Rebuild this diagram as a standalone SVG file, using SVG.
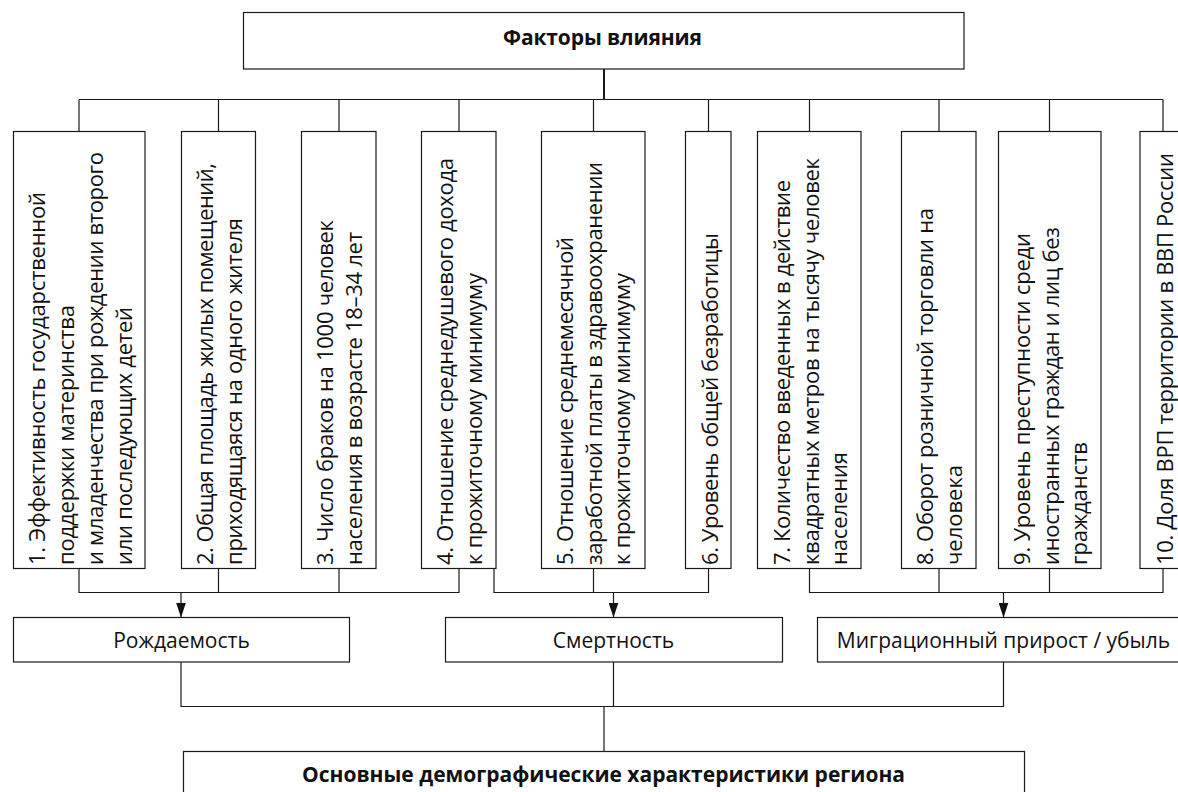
<svg xmlns="http://www.w3.org/2000/svg" width="1178" height="792" viewBox="0 0 1178 792">
<style>
rect{fill:#fff;stroke:#1a1a1a;stroke-width:1.2}
.c{fill:none;stroke:#1a1a1a;stroke-width:1.2}
.t{font-family:"Open Sans","Noto Sans","DejaVu Sans",sans-serif;font-size:21px;fill:#111}
.v{font-family:"Open Sans","Noto Sans","DejaVu Sans",sans-serif;font-size:22px;fill:#111}
.b{font-family:"Open Sans","Noto Sans","DejaVu Sans",sans-serif;font-size:21px;font-weight:bold;fill:#111}
</style>
<defs>
<marker id="arr" viewBox="0 0 15 10" refX="15" refY="5" markerWidth="15" markerHeight="10" markerUnits="userSpaceOnUse" orient="auto">
<path d="M0,0 L15,5 L0,10 z" fill="#111"/>
</marker>
</defs>
<rect width="1178" height="792" style="fill:#fff;stroke:none"/>
<g id="connectors">
<path class="c" d="M604 69 V99.5" style="stroke-width:2"/>
<path class="c" d="M79 99.5 H1163"/>
<path class="c" d="M79 99.5 V131.5 M218.5 99.5 V131.5 M339 99.5 V131.5 M459 99.5 V131.5 M593.5 99.5 V131.5 M708.5 99.5 V131.5 M809.5 99.5 V131.5 M939 99.5 V131.5 M1049.5 99.5 V131.5 M1163 99.5 V131.5"/>
<path class="c" d="M79 568.5 V592.5 H459 V568.5 M218.5 568.5 V592.5 M339 568.5 V592.5"/>
<path class="c" d="M494 568.5 V592.5 H708.5 V568.5 M593.5 568.5 V592.5"/>
<path class="c" d="M809.5 568.5 V592.5 H1163 V568.5 M939 568.5 V592.5 M1049.5 568.5 V592.5"/>
<path class="c" d="M181 592.5 V617.5" marker-end="url(#arr)"/>
<path class="c" d="M613.5 592.5 V617.5" marker-end="url(#arr)"/>
<path class="c" d="M1003.5 592.5 V617.5" marker-end="url(#arr)"/>
<path class="c" d="M181 662 V706.5 H1003.5 V662 M613.5 662 V706.5"/>
<path class="c" d="M604 706.5 V751.5"/>
</g>
<g id="factors">
<rect x="243.5" y="12.5" width="720.5" height="56.5"/>
<text class="b" x="503" y="45" textLength="199">Факторы влияния</text>
</g>
<g id="f1">
<rect x="13.5" y="131.5" width="131.5" height="437"/>
<text class="v" transform="rotate(-90)" x="-565" y="45" textLength="373">1. Эффективность государственной</text>
<text class="v" transform="rotate(-90)" x="-565" y="74" textLength="260">поддержки материнства</text>
<text class="v" transform="rotate(-90)" x="-565" y="103" textLength="413">и младенчества при рождении второго</text>
<text class="v" transform="rotate(-90)" x="-565" y="132" textLength="258">или последующих детей</text>
</g>
<g id="f2">
<rect x="181.5" y="131.5" width="74" height="437"/>
<text class="v" transform="rotate(-90)" x="-565" y="213" textLength="402">2. Общая площадь жилых помещений,</text>
<text class="v" transform="rotate(-90)" x="-565" y="242" textLength="347">приходящаяся на одного жителя</text>
</g>
<g id="f3">
<rect x="301.5" y="131.5" width="74.5" height="437"/>
<text class="v" transform="rotate(-90)" x="-565" y="333" textLength="345">3. Число браков на 1000 человек</text>
<text class="v" transform="rotate(-90)" x="-565" y="362" textLength="333">населения в возрасте 18–34 лет</text>
</g>
<g id="f4">
<rect x="421.5" y="131.5" width="74.5" height="437"/>
<text class="v" transform="rotate(-90)" x="-565" y="453" textLength="407">4. Отношение среднедушевого дохода</text>
<text class="v" transform="rotate(-90)" x="-565" y="481.5" textLength="292">к прожиточному минимуму</text>
</g>
<g id="f5">
<rect x="541.5" y="131.5" width="103.5" height="437"/>
<text class="v" transform="rotate(-90)" x="-565" y="573" textLength="328">5. Отношение среднемесячной</text>
<text class="v" transform="rotate(-90)" x="-565" y="601.5" textLength="403">заработной платы в здравоохранении</text>
<text class="v" transform="rotate(-90)" x="-565" y="630" textLength="292">к прожиточному минимуму</text>
</g>
<g id="f6">
<rect x="685.5" y="131.5" width="45.5" height="437"/>
<text class="v" transform="rotate(-90)" x="-565" y="718" textLength="332">6. Уровень общей безработицы</text>
</g>
<g id="f7">
<rect x="757.5" y="131.5" width="103.5" height="437"/>
<text class="v" transform="rotate(-90)" x="-565" y="790" textLength="385">7. Количество введенных в действие</text>
<text class="v" transform="rotate(-90)" x="-565" y="818.5" textLength="407">квадратных метров на тысячу человек</text>
<text class="v" transform="rotate(-90)" x="-565" y="847" textLength="113">населения</text>
</g>
<g id="f8">
<rect x="901.5" y="131.5" width="74.5" height="437"/>
<text class="v" transform="rotate(-90)" x="-565" y="933" textLength="357">8. Оборот розничной торговли на</text>
<text class="v" transform="rotate(-90)" x="-565" y="961.5" textLength="100">человека</text>
</g>
<g id="f9">
<rect x="998.5" y="131.5" width="102.5" height="437"/>
<text class="v" transform="rotate(-90)" x="-565" y="1030" textLength="332">9. Уровень преступности среди</text>
<text class="v" transform="rotate(-90)" x="-565" y="1058.5" textLength="338">иностранных граждан и лиц без</text>
<text class="v" transform="rotate(-90)" x="-565" y="1087" textLength="123">гражданств</text>
</g>
<g id="f10">
<rect x="1140" y="131.5" width="47" height="437"/>
<text class="v" transform="rotate(-90)" x="-565" y="1173" textLength="412">10. Доля ВРП территории в ВВП России</text>
</g>
<g id="birth">
<rect x="13.5" y="617.5" width="336" height="44.5"/>
<text class="t" x="181.5" y="648" text-anchor="middle">Рождаемость</text>
</g>
<g id="death">
<rect x="445.5" y="617.5" width="337" height="44.5"/>
<text class="t" x="613.5" y="648" text-anchor="middle">Смертность</text>
</g>
<g id="migration">
<rect x="817.5" y="617.5" width="372" height="44.5"/>
<text class="t" x="1003.5" y="648" text-anchor="middle">Миграционный прирост / убыль</text>
</g>
<g id="main">
<rect x="183.5" y="751.5" width="841" height="60"/>
<text class="b" x="302" y="782" textLength="603">Основные демографические характеристики региона</text>
</g>
</svg>
